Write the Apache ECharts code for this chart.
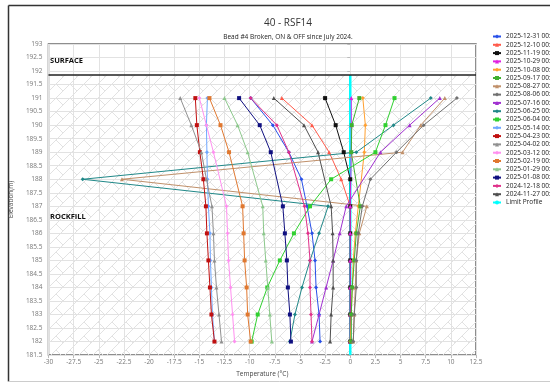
<!DOCTYPE html>
<html><head><meta charset="utf-8">
<script src="https://cdn.jsdelivr.net/npm/echarts@6/dist/echarts.min.js"></script>
<style>html,body{margin:0;padding:0;background:#fff}#c{width:550px;height:383px}</style>
</head><body><div id="c"></div>
<script>
// ---- data ----
const elevations = [191, 190, 189, 188, 187, 186, 185, 184, 183, 182];
const seriesNames = ['2025-12-31 00:00','2025-12-10 00:00','2025-11-19 00:00','2025-10-29 00:00','2025-10-08 00:00','2025-09-17 00:00','2025-08-27 00:00','2025-08-06 00:00','2025-07-16 00:00','2025-06-25 00:00','2025-06-04 00:00','2025-05-14 00:00','2025-04-23 00:00','2025-04-02 00:00','2025-03-12 00:00','2025-02-19 00:00','2025-01-29 00:00','2025-01-08 00:00','2024-12-18 00:00','2024-11-27 00:00'];
const t20251231 = [-9.9, -7.7, -6.1, -4.85, -4.3, -3.8, -3.5, -3.4, -3.1, -3.0];
const t20251210 = [-6.8, -3.8, -2.1, -0.9, 0, 0, 0, 0, 0, 0];
const t20251119 = [-2.5, -1.45, -0.65, 0, 0, 0, 0, 0, 0, 0];
const t20251029 = [0.1, 0.1, 0.1, null, 0, 0, 0, 0, 0, 0];
const t20251008 = [1.25, 1.5, 1.4, null, 0.8, 0.5, 0.3, 0.2, 0.1, 0.0];
const t20250917 = [0.9, 0.15, 0.1, null, 1.0, 0.6, 0.4, 0.2, 0.1, 0.1];
const t20250827 = [9.4, 7.0, 5.2, -22.7, 1.65, 0.9, 0.6, 0.5, 0.4, 0.3];
const t20250806 = [10.6, 7.3, 4.6, 2.0, 1.2, 0.8, 0.6, 0.6, 0.4, 0.3];
const t20250716 = [8.9, 5.9, 3.0, null, -0.4, -1.05, -1.7, -2.4, -3.1, -3.8];
const t20250625 = [8.0, 4.3, 0.6, -26.6, -2.2, -3.1, -4.0, -4.8, -5.5, -6.0];
const t20250604 = [4.4, 3.5, 2.5, -1.9, -4.0, -5.6, -7.0, -8.25, -9.2, -9.8];
const t20250514 = [-14.2, -14.3, -14.25, -14.2, -14.1, -13.95, -13.9, -13.8, -13.7, -13.5];
const t20250423 = [-15.4, -15.25, -14.95, -14.6, -14.35, -14.25, -14.1, -13.95, -13.8, -13.5];
const t20250402 = [-16.9, -15.8, -14.8, -14.3, -13.75, -13.6, -13.5, -13.3, -13.05, -12.8];
const t20250312 = [-15.0, -14.3, -13.6, null, -12.3, -12.2, -12.1, -11.9, -11.7, -11.5];
const t20250219 = [-14.0, -12.9, -12.05, null, -10.7, -10.6, -10.5, -10.3, -10.2, -9.9];
const t20250129 = [-12.5, -11.2, -10.2, null, -8.7, -8.6, -8.4, -8.2, -8.0, -7.8];
const t20250108 = [-11.05, -9.0, -7.9, null, -6.7, -6.5, -6.3, -6.2, -6.0, -5.9];
const t20241218 = [-9.9, -7.3, -6.1, null, -4.55, -4.2, -4.0, -4.0, -3.9, -3.8];
const t20241127 = [-7.6, -4.6, -3.2, null, -1.9, -1.75, -1.7, -1.7, -1.9, -2.0];
const limitName = 'Limit Profile';
const limitTemps = [0, 0];
const limitElev = [191.85, 181.5];
const surfaceElev = 191.85;
const bottomElev = 181.5;
const xMin = -30, xMax = 12.5;

// ---- styles ----
const seriesTemps = [t20251231,t20251210,t20251119,t20251029,t20251008,t20250917,t20250827,t20250806,t20250716,t20250625,t20250604,t20250514,t20250423,t20250402,t20250312,t20250219,t20250129,t20250108,t20241218,t20241127];
const colors = ['#2850e8','#ff5a4a','#111111','#e020e0','#ffa030','#40b030','#c0906a','#707070','#a030d0','#208888','#30d030','#70a8ff','#c01010','#909090','#ff90f0','#e07830','#8cc88c','#101080','#e0308a','#505050'];
const symbols = ['diamond','triangle','rect','triangle','diamond','rect','triangle','diamond','triangle','diamond','rect','diamond','rect','triangle','diamond','rect','triangle','rect','diamond','triangle'];

function makeHatch(){
  const c = document.createElement('canvas'); c.width = 14; c.height = 14;
  const g = c.getContext('2d');
  g.strokeStyle = '#e2e2e2'; g.lineWidth = 1;
  g.beginPath();
  g.moveTo(0,14); g.lineTo(14,0);
  g.moveTo(-7,7); g.lineTo(7,-7);
  g.moveTo(7,21); g.lineTo(21,7);
  g.moveTo(0,0); g.lineTo(7,7);
  g.stroke();
  return c;
}
const hatch = makeHatch();

const font = '"Open Sans", "Noto Sans", sans-serif';
const series = [];
series.push({
  name: 'hatch', type: 'custom', z: 0, silent: true, clip: true,
  data: [[xMin, surfaceElev, xMax, bottomElev]],
  encode: {x: [0, 2], y: [1, 3]},
  renderItem: function (params, api) {
    const p1 = api.coord([api.value(0), api.value(1)]);
    const p2 = api.coord([api.value(2), api.value(3)]);
    return {type: 'rect', shape: {x: p1[0], y: p1[1], width: p2[0] - p1[0], height: p2[1] - p1[1]},
      style: {fill: {image: hatch, repeat: 'repeat'}}};
  }
});
series.push({
  name: limitName, type: 'line', z: 1,
  data: limitTemps.map((t,i)=>[t, limitElev[i]]),
  symbol: 'none', lineStyle: {color: '#00ffff', width: 2.5}, itemStyle: {color: '#00ffff'},
  markLine: {silent: true, symbol: 'none', label: {show:false},
    lineStyle: {color: '#222', width: 1.6, type: 'solid'},
    data: [{yAxis: surfaceElev}]}
});
seriesNames.forEach((n, k) => {
  const d = [];
  seriesTemps[k].forEach((t,i) => { if (t !== null) d.push([t, elevations[i]]); });
  series.push({
    name: n, type: 'line', data: d, z: 3,
    symbol: symbols[k], symbolSize: 4,
    lineStyle: {color: colors[k], width: 1}, itemStyle: {color: colors[k]},
    emphasis: {disabled: true}
  });
});

const chart = echarts.init(document.getElementById('c'), null, {renderer: 'canvas'});
chart.setOption({
  animation: false,
  backgroundColor: '#fff',
  textStyle: {fontFamily: font},
  title: {
    text: '40 - RSF14', subtext: 'Bead #4 Broken, ON & OFF since July 2024.',
    left: 283, textAlign: 'center', top: 13, itemGap: 6,
    textStyle: {fontSize: 10, fontWeight: 'normal', color: '#333', fontFamily: font},
    subtextStyle: {fontSize: 6.5, color: '#222', fontFamily: font}
  },
  legend: {
    orient: 'vertical', left: 487, top: 28, itemWidth: 8, itemHeight: 5, itemGap: 1.3,
    textStyle: {fontSize: 6.5, color: '#222', lineHeight: 7, fontFamily: font},
    data: seriesNames.concat([limitName])
  },
  grid: {left: 46.7, right: 74, top: 44, bottom: 25, show: true, borderColor: '#6a6a6a', borderWidth: 1.5, backgroundColor: 'transparent'},
  xAxis: {
    type: 'value', min: xMin, max: xMax, interval: 2.5,
    name: 'Temperature (°C)', nameLocation: 'middle', nameGap: 15,
    nameTextStyle: {fontSize: 6.5, color: '#444'},
    axisLine: {show: false}, axisTick: {show: true, length: 3, lineStyle: {color: '#bbb'}},
    axisLabel: {fontSize: 6.5, color: '#777', margin: 4},
    splitLine: {show: true, lineStyle: {color: '#e2e2e2', width: 1}}
  },
  yAxis: {
    type: 'value', min: 181.5, max: 193, interval: 0.5,
    name: 'Elevation(m)', nameLocation: 'middle', nameGap: 24,
    nameTextStyle: {fontSize: 6.5, color: '#444'},
    axisLine: {show: false}, axisTick: {show: true, length: 3, lineStyle: {color: '#bbb'}},
    axisLabel: {fontSize: 6.5, color: '#777', margin: 6},
    splitLine: {show: true, lineStyle: {color: '#e2e2e2', width: 1}}
  },
  graphic: [
    {type: 'line', shape: {x1: 8.5, y1: 5.5, x2: 560, y2: 5.5}, style: {stroke: '#333', lineWidth: 1.5}},
    {type: 'line', shape: {x1: 8.5, y1: 5.5, x2: 8.5, y2: 381.5}, style: {stroke: '#333', lineWidth: 1.5}},
    {type: 'line', shape: {x1: 8.5, y1: 381.5, x2: 560, y2: 381.5}, style: {stroke: '#ccc', lineWidth: 1}},
    {type: 'text', left: 50, top: 57, z: 100, style: {text: 'SURFACE', font: 'bold 7.5px ' + font, fill: '#111'}},
    {type: 'text', left: 50, top: 213, z: 100, style: {text: 'ROCKFILL', font: 'bold 7.5px ' + font, fill: '#111'}}
  ],
  series: series
});
</script></body></html>
